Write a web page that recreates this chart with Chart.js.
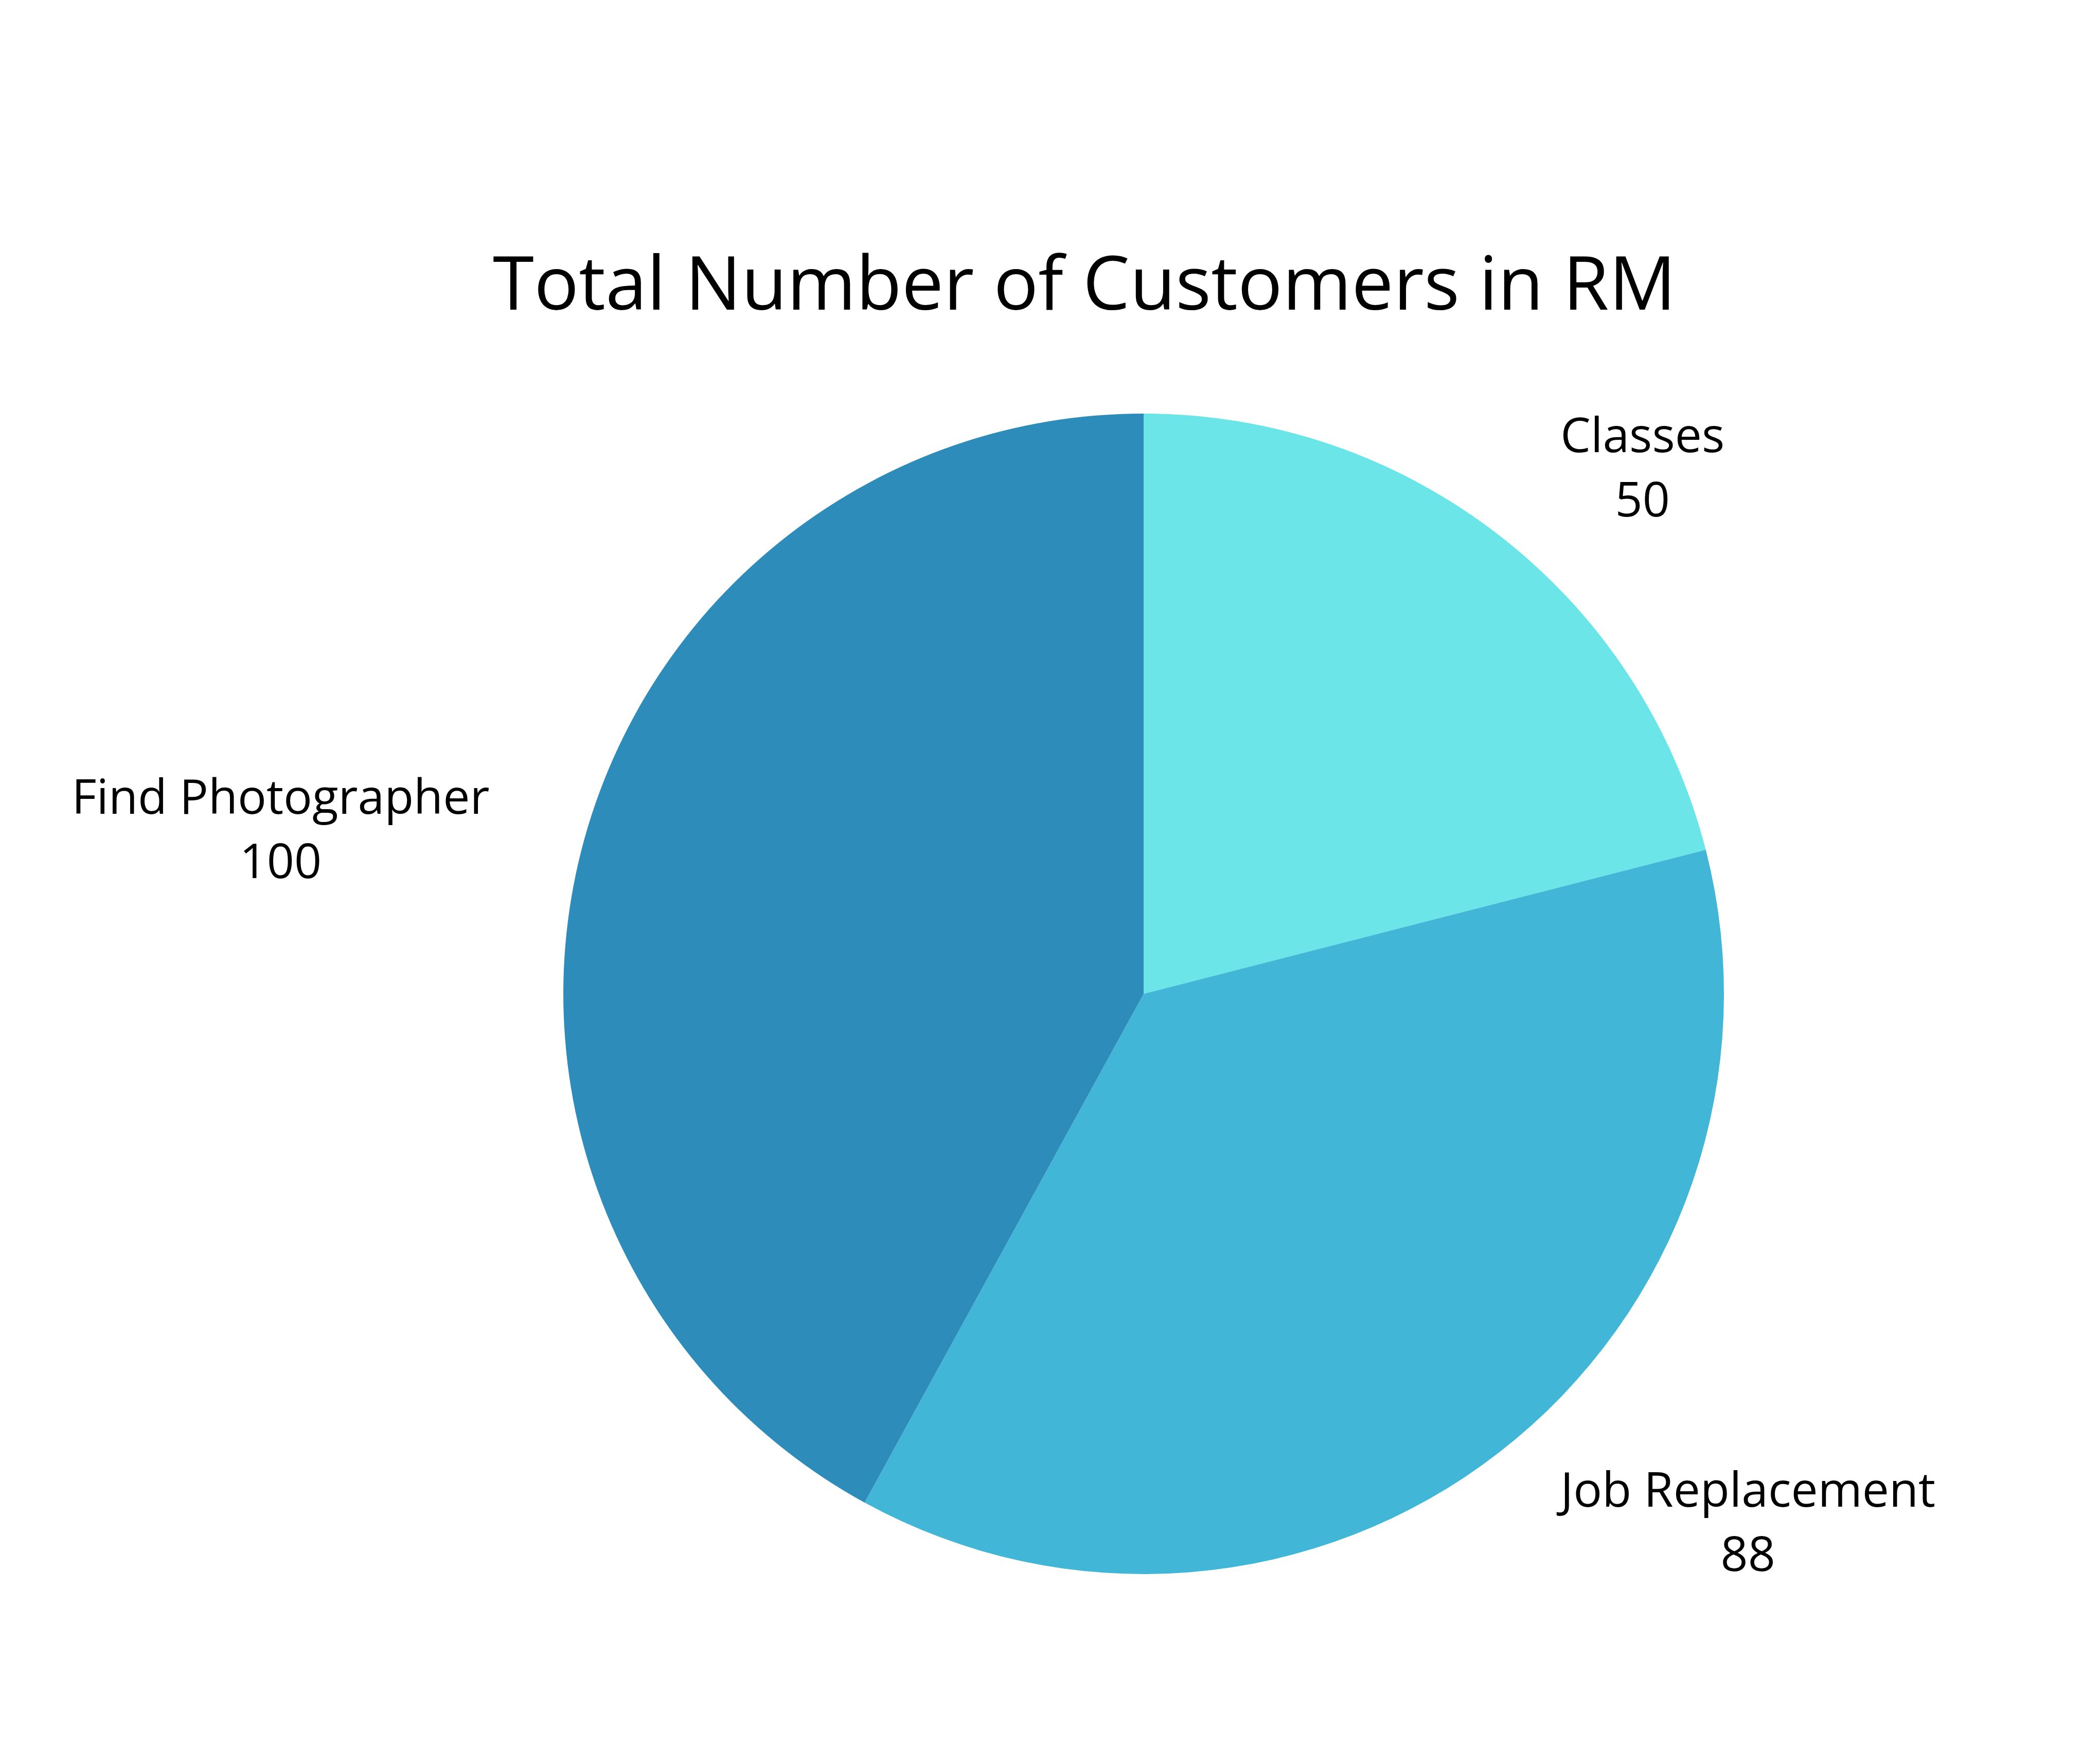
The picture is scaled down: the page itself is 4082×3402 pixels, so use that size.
<!DOCTYPE html>
<html>
<head>
<meta charset="utf-8">
<script src="https://cdn.jsdelivr.net/npm/chart.js@4.4.1/dist/chart.umd.min.js"></script>
<style>
    html, body { margin: 0; padding: 0; background: #ffffff; }
    #wrap { width: 4082px; height: 3402px; position: relative; }
</style>
</head>
<body>
<div id="wrap"><canvas id="customersChart"></canvas></div>
<script>
const chartTitle = 'Total Number of Customers in RM';
const categories = ['Classes', 'Job Replacement', 'Find Photographer'];
const customerCounts = [50, 88, 100];
const sliceColors = ['#6ce5e8', '#42b6d6', '#2e8cba'];

const FONT = '"Open Sans", "Noto Sans", sans-serif';

// title sits a bit left of the pie centre, so draw it by hand
const titlePlugin = {
    id: 'offsetTitle',
    afterDraw(chart) {
        const ctx = chart.ctx;
        ctx.save();
        ctx.fillStyle = '#000000';
        ctx.font = `145px ${FONT}`;
        ctx.textAlign = 'center';
        ctx.textBaseline = 'alphabetic';
        ctx.fillText(chartTitle, 2108, 602);
        ctx.restore();
    }
};

// label + value outside each slice, placed along the slice's middle angle
const outsideLabels = {
    id: 'outsideLabels',
    afterDatasetsDraw(chart) {
        const ctx = chart.ctx;
        const meta = chart.getDatasetMeta(0);
        ctx.save();
        ctx.fillStyle = '#000000';
        ctx.font = `93px ${FONT}`;
        ctx.textAlign = 'center';
        ctx.textBaseline = 'middle';
        const lineGap = 125;
        meta.data.forEach((arc, i) => {
            const p = arc.getProps(['x', 'y', 'startAngle', 'endAngle', 'outerRadius'], true);
            const mid = (p.startAngle + p.endAngle) / 2;
            const dist = p.outerRadius * 1.15;
            const ax = p.x + Math.cos(mid) * dist;
            const ay = p.y + Math.sin(mid) * dist + 8;
            const lines = [categories[i], String(customerCounts[i])];
            const w = Math.max(...lines.map(l => ctx.measureText(l).width));
            const cx = ax >= p.x ? ax + 15 + w / 2 : ax - 15 - w / 2;
            const top = ay - lineGap / 2;
            lines.forEach((l, j) => ctx.fillText(l, cx, top + j * lineGap));
        });
        ctx.restore();
    }
};

const ctx = document.getElementById('customersChart').getContext('2d');
new Chart(ctx, {
    type: 'pie',
    data: {
        labels: categories,
        datasets: [{
            data: customerCounts,
            backgroundColor: sliceColors,
            borderWidth: 0
        }]
    },
    options: {
        responsive: true,
        maintainAspectRatio: false,
        animation: false,
        layout: {
            padding: { left: 1095, right: 731, top: 804, bottom: 342 }
        },
        plugins: {
            legend: { display: false },
            title: { display: false },
            tooltip: { enabled: false }
        }
    },
    plugins: [titlePlugin, outsideLabels]
});
</script>
</body>
</html>
